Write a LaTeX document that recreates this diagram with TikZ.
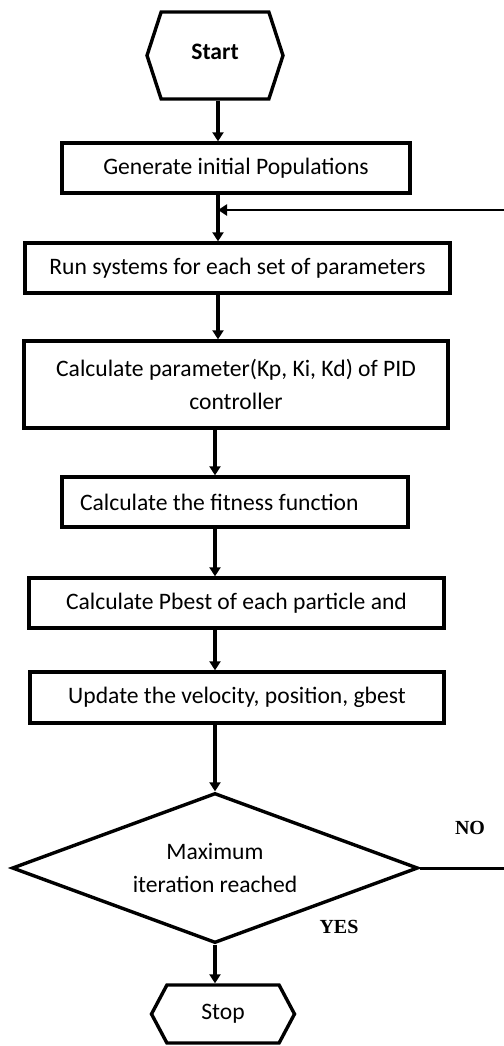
\documentclass[tikz,border=0pt]{standalone}
\usepackage{fontspec}
\setmainfont{Carlito}
\newfontfamily\answerfont{Liberation Serif}
\usepackage{tikz}
\usetikzlibrary{arrows.meta,positioning,shapes.geometric,shapes.symbols}

\begin{document}
\begin{tikzpicture}[
  x=0.5pt, y=-0.5pt,
  font=\fontsize{11.8}{16.5}\selectfont,
  block/.style={draw, line width=1.7pt, minimum height=25pt, inner sep=2pt, align=center},
  terminal/.style={draw, line width=1.7pt, signal, signal to=east and west, inner sep=2pt},
  decision/.style={draw, line width=1.7pt, diamond, aspect=2.7, minimum width=203pt, minimum height=75pt, inner sep=0pt, align=center},
  answer/.style={font=\answerfont\bfseries\fontsize{10}{11}\selectfont},
  >={Triangle[width=5.5pt,length=4.5pt]}
]
\useasboundingbox (0,0) rectangle (504,1046);

% Nodes
\node[terminal, signal pointer angle=144, minimum width=68pt, minimum height=43.5pt] (start) at (215,55.5) {\raisebox{4pt}{\textbf{Start}}};
\node[block, minimum width=174pt] (gen) at (236,168) {Generate initial Populations};
\node[block, minimum width=212.5pt] (run) at (237.5,268) {Run systems for each set of parameters};
\node[block, minimum width=212pt, minimum height=43.5pt] (calc) at (236,384.5) {Calculate parameter(Kp, Ki, Kd) of PID\\controller};
\node[block, minimum width=173pt, inner xsep=9pt, text width=155pt, align=flush left] (fit) at (235,502) {Calculate the fitness function};
\node[block, minimum width=207.5pt] (pbest) at (236.5,603) {Calculate Pbest of each particle and};
\node[block, minimum width=207pt, minimum height=25.5pt] (upd) at (237,697.5) {Update the velocity, position, gbest};
\node[decision] (dec) at (215,868) {Maximum\\iteration reached};
\node[terminal, signal pointer angle=124, minimum width=71.5pt, minimum height=29pt] (stop) at (223,1014) {Stop};

\node[answer] (no) at (470,828) {NO};
\node[answer] (yes) at (339,927) {YES};

\coordinate (loop) at (504,210);
\coordinate (exit) at (504,868);
\coordinate (trunk) at (218,0);

% Connections
\draw[->, line width=1.7pt] (start.south -| trunk) -- (trunk |- gen.north);
\draw[->, line width=1.7pt] (trunk |- gen.south) -- (trunk |- run.north);
\draw[->, line width=1.7pt] (trunk |- run.south) -- (trunk |- calc.north);
\draw[->, line width=1.7pt] (dec |- calc.south) -- (dec |- fit.north);
\draw[->, line width=1.7pt] (dec |- fit.south) -- (dec |- pbest.north);
\draw[->, line width=1.7pt] (dec |- pbest.south) -- (dec |- upd.north);
\draw[->, line width=1.7pt] (dec |- upd.south) -- (dec.north);
\draw[->, line width=1.7pt] (dec.south) -- (dec.south |- stop.north);

% Loop back
\draw[line width=1.5pt] (dec.east) -- (exit);
\draw[->, line width=1.2pt] (loop) -- (loop -| trunk);

\end{tikzpicture}
\end{document}
